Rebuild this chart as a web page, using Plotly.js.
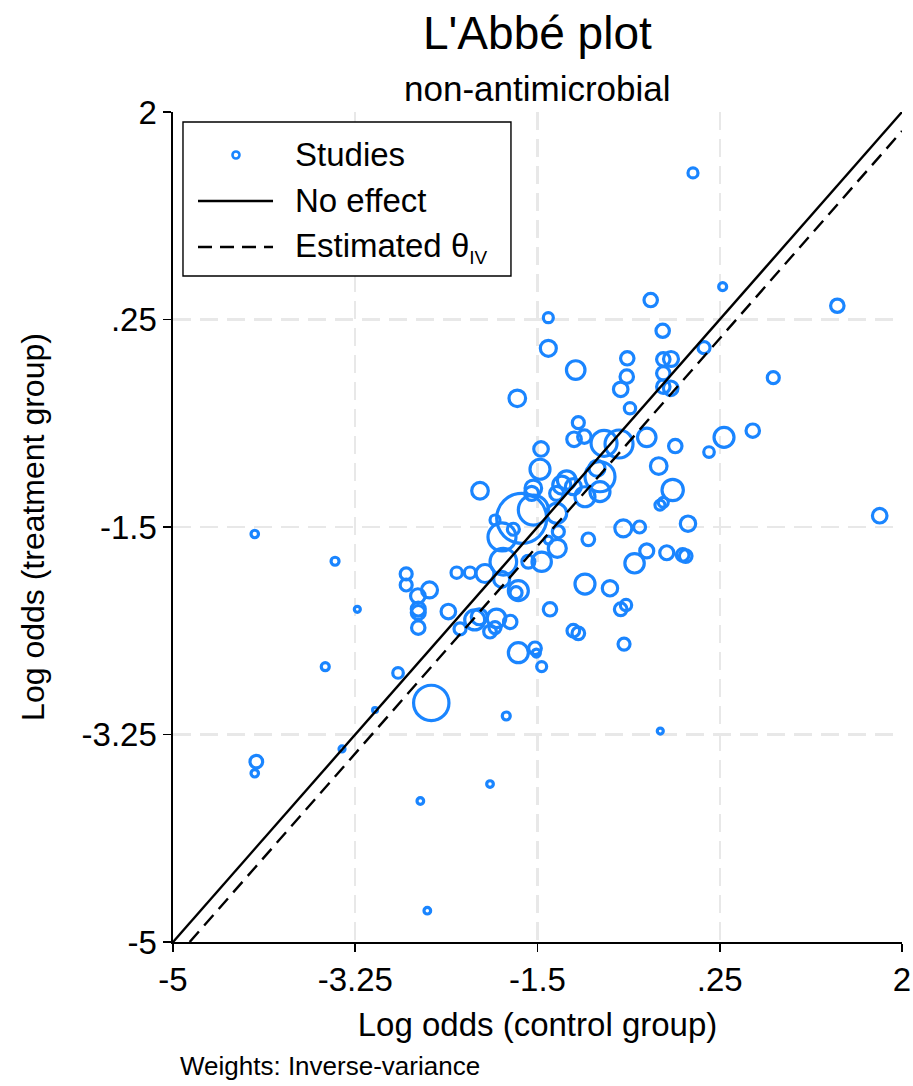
<!DOCTYPE html>
<html><head><meta charset="utf-8">
<script src="https://cdn.plot.ly/plotly-3.0.1.min.js"></script>
<style>html,body{margin:0;padding:0;background:#fff}</style>
</head><body>
<div id="chart" style="width:913px;height:1086px"></div>
<script>
// Log odds in the control group (x) and treatment group (y), one entry per study
const controlLogOdds = [
  -0.007, 0.278, -0.413, 1.379, -1.396, -0.298, -1.396, 0.099, -0.638, -0.292,
  -0.218, -1.133, -0.643, -0.292, 0.764, -0.701, -0.292, -0.221, -1.694, -0.612,
  -1.108, -1.149, -1.050, -0.451, 0.291, 0.567, -0.861, -0.717, -0.177, 0.147,
  -1.466, -1.476, -0.336, 1.786, -2.052, -0.202, -0.324, -0.292, -0.929, -0.900,
  -0.900, -1.044, -1.220, -1.267, -1.316, -1.156, -1.540, -1.556, -1.908, -1.732,
  -1.652, -1.540, -1.316, -1.300, -1.396, -1.310, -1.012, -1.460, -1.588, -1.828,
  -1.841, -0.676, -0.520, -0.055, -0.451, -0.259, -0.106, -0.077, -0.568, -0.804,
  -1.044, -0.650, -0.701, -0.669, -2.276, -2.148, -2.004, -1.844, -1.684, -1.706,
  -2.537, -2.356, -1.380, -2.059, -2.103, -1.894, -1.762, -1.956, -1.908, -2.244,
  -1.156, -1.108, -1.684, -1.524, -1.511, -1.460, -2.761, -2.761, -2.649, -2.645,
  -2.645, -2.645, -2.839, -2.520, -1.800, -4.215, -3.444, -3.230, -3.538, -3.060,
  -3.377, -4.200, -4.215, -2.625, -1.956, -2.558, -0.321
];
const treatmentLogOdds = [
  1.486, 0.527, 0.414, 0.366, 0.265, 0.155, 0.007, 0.012, -0.077, -0.086,
  -0.083, -0.176, -0.232, -0.204, -0.241, -0.339, -0.317, -0.330, -0.415, -0.499,
  -0.620, -0.760, -0.738, -0.744, -0.744, -0.688, -0.794, -0.800, -0.817, -0.868,
  -0.842, -1.013, -0.986, -1.405, -1.194, -1.188, -1.315, -1.292, -1.005, -1.076,
  -1.202, -1.245, -1.104, -1.146, -1.216, -1.160, -1.174, -1.216, -1.441, -1.519,
  -1.427, -1.357, -1.385, -1.540, -1.610, -1.680, -1.604, -1.793, -1.793, -1.793,
  -1.584, -1.511, -1.500, -1.472, -1.702, -1.717, -1.736, -1.745, -1.806, -2.017,
  -1.981, -2.158, -2.194, -2.487, -1.885, -1.885, -1.892, -1.941, -2.037, -2.054,
  -2.031, -2.213, -2.194, -2.257, -2.284, -2.270, -2.301, -2.383, -2.348, -2.360,
  -2.375, -2.397, -2.560, -2.523, -2.563, -2.677, -1.896, -1.989, -2.082, -2.192,
  -2.221, -2.349, -2.731, -2.984, -3.094, -1.559, -1.789, -2.194, -2.678, -3.043,
  -3.372, -3.479, -3.577, -3.811, -3.668, -4.736, -3.221
];
// Relative inverse-variance weights (marker area)
const studyWeights = [
  25, 16, 45, 45, 25, 45, 64, 36, 45, 45,
  56, 86, 45, 45, 36, 53, 45, 53, 69, 32,
  36, 53, 45, 86, 100, 45, 169, 196, 45, 28,
  53, 100, 69, 53, 69, 114, 25, 25, 64, 225,
  100, 100, 86, 81, 49, 64, 69, 49, 25, 36,
  625, 225, 100, 36, 16, 81, 40, 94, 42, 177,
  196, 72, 36, 59, 49, 49, 40, 40, 94, 59,
  100, 32, 40, 36, 32, 32, 81, 64, 100, 36,
  64, 53, 45, 64, 100, 86, 45, 40, 36, 36,
  40, 40, 100, 40, 16, 25, 36, 36, 53, 49,
  49, 45, 28, 313, 16, 14, 16, 9, 16, 6,
  9, 40, 14, 11, 11, 11, 9
];
const thetaIV = -0.16;           // estimated overall log odds ratio (IV)
const axisRange = [-5, 2];
const tickVals = [-5, -3.25, -1.5, 0.25, 2];
const tickText = ['-5', '-3.25', '-1.5', '.25', '2'];

const blue = '#1a85ff';
const FONT = 'Liberation Sans, Arial, Helvetica, sans-serif';

const traces = [
  {
    type: 'scatter', mode: 'markers', name: 'Studies', showlegend: false,
    x: controlLogOdds, y: treatmentLogOdds,
    marker: {symbol: 'circle-open', color: blue, size: studyWeights,
             sizemode: 'area', sizeref: 0.5, sizemin: 2, opacity: 1,
             line: {width: 3.2, color: blue}},
    hoverinfo: 'x+y'
  },
  {
    type: 'scatter', mode: 'lines', name: 'No effect', showlegend: false,
    x: axisRange, y: axisRange,
    line: {color: '#000', width: 2.4}
  },
  {
    type: 'scatter', mode: 'lines', name: 'Estimated θIV', showlegend: false,
    x: [axisRange[0] - thetaIV, axisRange[1]],
    y: [axisRange[0], axisRange[1] + thetaIV],
    line: {color: '#000', width: 2.4, dash: '14px,8px'}
  }
];

const axisCommon = {
  range: axisRange, tickvals: tickVals, ticktext: tickText,
  ticks: 'outside', ticklen: 8, tickwidth: 1.6, tickcolor: '#000',
  showline: true, linecolor: '#000', linewidth: 1.6,
  showgrid: true, gridcolor: '#e8e8e8', gridwidth: 2.2, griddash: '18px,9px',
  zeroline: false, fixedrange: true,
  tickfont: {family: FONT, size: 33, color: '#000'}
};

// legend drawn in paper coordinates
const lgX0 = 0.0137, lgX1 = 0.4636, lgY0 = 0.8024, lgY1 = 0.988;
const rowY = [0.9482, 0.8928, 0.8373];
const symX0 = 0.0343, symX1 = 0.1372, symXc = 0.0864, txtX = 0.1646;

const layout = {
  width: 913, height: 1086,
  margin: {l: 173, r: 11, t: 112, b: 144, pad: 0},
  paper_bgcolor: '#fff', plot_bgcolor: '#fff',
  showlegend: false,
  font: {family: FONT, color: '#000'},
  xaxis: Object.assign({}, axisCommon, {
    title: {text: 'Log odds (control group)', font: {family: FONT, size: 33, color: '#000'}, standoff: 15}
  }),
  yaxis: Object.assign({}, axisCommon, {
    title: {text: 'Log odds (treatment group)', font: {family: FONT, size: 32, color: '#000'}, standoff: 27}
  }),
  shapes: [
    {type: 'rect', xref: 'paper', yref: 'paper', x0: lgX0, x1: lgX1, y0: lgY0, y1: lgY1,
     line: {color: '#000', width: 1.4}, fillcolor: '#fff', layer: 'above'},
    {type: 'circle', xref: 'paper', yref: 'paper', xsizemode: 'pixel', ysizemode: 'pixel',
     xanchor: symXc, yanchor: rowY[0], x0: -3.5, x1: 3.5, y0: -3.5, y1: 3.5,
     line: {color: blue, width: 2.6}, layer: 'above'},
    {type: 'line', xref: 'paper', yref: 'paper', x0: symX0, x1: symX1, y0: rowY[1], y1: rowY[1],
     line: {color: '#000', width: 2.4}, layer: 'above'},
    {type: 'line', xref: 'paper', yref: 'paper', x0: symX0, x1: symX1, y0: rowY[2], y1: rowY[2],
     line: {color: '#000', width: 2.4, dash: '14px,8px'}, layer: 'above'}
  ],
  annotations: [
    {text: "L'Abbé plot", xref: 'paper', yref: 'paper', x: 0.5, y: 1.0952,
     xanchor: 'center', yanchor: 'middle', showarrow: false, font: {family: FONT, size: 46, color: '#000'}},
    {text: 'non-antimicrobial', xref: 'paper', yref: 'paper', x: 0.5, y: 1.0289,
     xanchor: 'center', yanchor: 'middle', showarrow: false, font: {family: FONT, size: 35, color: '#000'}},
    {text: 'Weights: Inverse-variance', xref: 'paper', yref: 'paper', x: 0.0069, y: -0.1494,
     xanchor: 'left', yanchor: 'middle', showarrow: false, font: {family: FONT, size: 26, color: '#000'}},
    {text: 'Studies', xref: 'paper', yref: 'paper', x: txtX, y: rowY[0],
     xanchor: 'left', yanchor: 'middle', showarrow: false, font: {family: FONT, size: 33, color: '#000'}},
    {text: 'No effect', xref: 'paper', yref: 'paper', x: txtX, y: rowY[1],
     xanchor: 'left', yanchor: 'middle', showarrow: false, font: {family: FONT, size: 33, color: '#000'}},
    {text: 'Estimated θ<sub><span style="font-size:19px">IV</span></sub>', xref: 'paper', yref: 'paper', x: txtX, y: rowY[2],
     xanchor: 'left', yanchor: 'middle', showarrow: false, font: {family: FONT, size: 33, color: '#000'}}
  ]
};

Plotly.newPlot('chart', traces, layout, {displayModeBar: false, staticPlot: true});
</script>
</body></html>
